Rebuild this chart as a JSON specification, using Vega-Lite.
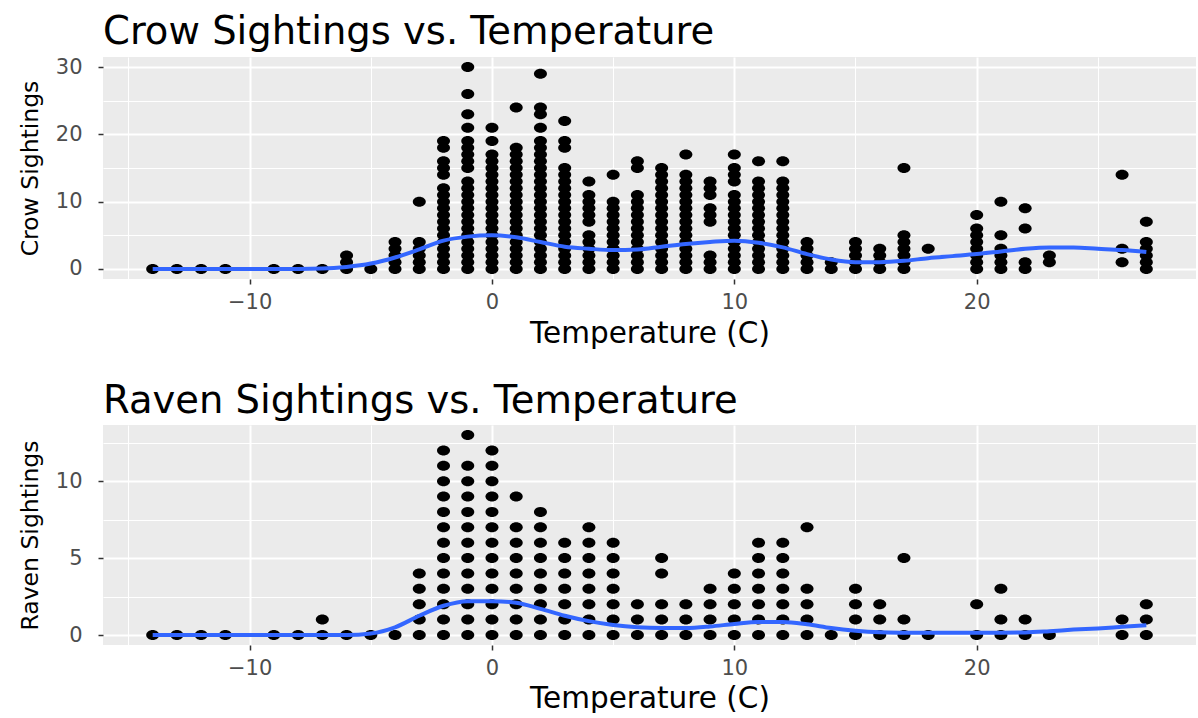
{
"$schema": "https://vega.github.io/schema/vega-lite/v6.json",
"background": "white",
"padding": {"left": 18, "top": 12, "right": 0, "bottom": 0},
"spacing": 33,
"config": {
  "font": "DejaVu Sans",
  "view": {"stroke": null, "fill": "#EBEBEB"},
  "title": {"anchor": "start", "frame": "group", "fontSize": 38.5, "fontWeight": "normal", "color": "#000000", "offset": 4, "font": "DejaVu Sans"}
},
"datasets": {
"crow": [
{"temp":-14,"sightings":0},{"temp":-13,"sightings":0},{"temp":-12,"sightings":0},{"temp":-11,"sightings":0},{"temp":-9,"sightings":0},{"temp":-8,"sightings":0},{"temp":-7,"sightings":0},
{"temp":-6,"sightings":0},{"temp":-6,"sightings":1},{"temp":-6,"sightings":2},
{"temp":-5,"sightings":0},
{"temp":-4,"sightings":0},{"temp":-4,"sightings":1},{"temp":-4,"sightings":2},{"temp":-4,"sightings":3},{"temp":-4,"sightings":4},
{"temp":-3,"sightings":0},{"temp":-3,"sightings":1},{"temp":-3,"sightings":2},{"temp":-3,"sightings":3},{"temp":-3,"sightings":4},{"temp":-3,"sightings":10},
{"temp":-2,"sightings":0},{"temp":-2,"sightings":1},{"temp":-2,"sightings":2},{"temp":-2,"sightings":3},{"temp":-2,"sightings":4},{"temp":-2,"sightings":5},{"temp":-2,"sightings":6},{"temp":-2,"sightings":7},{"temp":-2,"sightings":8},{"temp":-2,"sightings":9},{"temp":-2,"sightings":10},{"temp":-2,"sightings":11},{"temp":-2,"sightings":12},{"temp":-2,"sightings":14},{"temp":-2,"sightings":15},{"temp":-2,"sightings":16},{"temp":-2,"sightings":18},{"temp":-2,"sightings":19},
{"temp":-1,"sightings":0},{"temp":-1,"sightings":1},{"temp":-1,"sightings":2},{"temp":-1,"sightings":3},{"temp":-1,"sightings":4},{"temp":-1,"sightings":5},{"temp":-1,"sightings":6},{"temp":-1,"sightings":7},{"temp":-1,"sightings":8},{"temp":-1,"sightings":9},{"temp":-1,"sightings":10},{"temp":-1,"sightings":11},{"temp":-1,"sightings":12},{"temp":-1,"sightings":13},{"temp":-1,"sightings":15},{"temp":-1,"sightings":16},{"temp":-1,"sightings":17},{"temp":-1,"sightings":18},{"temp":-1,"sightings":19},{"temp":-1,"sightings":21},{"temp":-1,"sightings":23},{"temp":-1,"sightings":26},{"temp":-1,"sightings":30},
{"temp":0,"sightings":0},{"temp":0,"sightings":1},{"temp":0,"sightings":2},{"temp":0,"sightings":3},{"temp":0,"sightings":4},{"temp":0,"sightings":5},{"temp":0,"sightings":6},{"temp":0,"sightings":7},{"temp":0,"sightings":8},{"temp":0,"sightings":9},{"temp":0,"sightings":10},{"temp":0,"sightings":11},{"temp":0,"sightings":12},{"temp":0,"sightings":13},{"temp":0,"sightings":14},{"temp":0,"sightings":15},{"temp":0,"sightings":16},{"temp":0,"sightings":17},{"temp":0,"sightings":19},{"temp":0,"sightings":21},
{"temp":1,"sightings":0},{"temp":1,"sightings":1},{"temp":1,"sightings":2},{"temp":1,"sightings":3},{"temp":1,"sightings":4},{"temp":1,"sightings":5},{"temp":1,"sightings":6},{"temp":1,"sightings":7},{"temp":1,"sightings":8},{"temp":1,"sightings":9},{"temp":1,"sightings":10},{"temp":1,"sightings":11},{"temp":1,"sightings":12},{"temp":1,"sightings":13},{"temp":1,"sightings":14},{"temp":1,"sightings":15},{"temp":1,"sightings":16},{"temp":1,"sightings":17},{"temp":1,"sightings":18},{"temp":1,"sightings":24},
{"temp":2,"sightings":0},{"temp":2,"sightings":1},{"temp":2,"sightings":2},{"temp":2,"sightings":3},{"temp":2,"sightings":4},{"temp":2,"sightings":5},{"temp":2,"sightings":6},{"temp":2,"sightings":7},{"temp":2,"sightings":8},{"temp":2,"sightings":9},{"temp":2,"sightings":10},{"temp":2,"sightings":11},{"temp":2,"sightings":12},{"temp":2,"sightings":13},{"temp":2,"sightings":14},{"temp":2,"sightings":15},{"temp":2,"sightings":16},{"temp":2,"sightings":17},{"temp":2,"sightings":18},{"temp":2,"sightings":19},{"temp":2,"sightings":21},{"temp":2,"sightings":23},{"temp":2,"sightings":24},{"temp":2,"sightings":29},
{"temp":3,"sightings":0},{"temp":3,"sightings":1},{"temp":3,"sightings":2},{"temp":3,"sightings":3},{"temp":3,"sightings":4},{"temp":3,"sightings":5},{"temp":3,"sightings":6},{"temp":3,"sightings":7},{"temp":3,"sightings":8},{"temp":3,"sightings":9},{"temp":3,"sightings":10},{"temp":3,"sightings":11},{"temp":3,"sightings":12},{"temp":3,"sightings":13},{"temp":3,"sightings":14},{"temp":3,"sightings":15},{"temp":3,"sightings":18},{"temp":3,"sightings":19},{"temp":3,"sightings":22},
{"temp":4,"sightings":0},{"temp":4,"sightings":1},{"temp":4,"sightings":2},{"temp":4,"sightings":3},{"temp":4,"sightings":4},{"temp":4,"sightings":5},{"temp":4,"sightings":7},{"temp":4,"sightings":8},{"temp":4,"sightings":9},{"temp":4,"sightings":10},{"temp":4,"sightings":11},{"temp":4,"sightings":13},
{"temp":5,"sightings":0},{"temp":5,"sightings":1},{"temp":5,"sightings":2},{"temp":5,"sightings":3},{"temp":5,"sightings":4},{"temp":5,"sightings":5},{"temp":5,"sightings":6},{"temp":5,"sightings":7},{"temp":5,"sightings":8},{"temp":5,"sightings":9},{"temp":5,"sightings":10},{"temp":5,"sightings":14},
{"temp":6,"sightings":0},{"temp":6,"sightings":1},{"temp":6,"sightings":2},{"temp":6,"sightings":3},{"temp":6,"sightings":4},{"temp":6,"sightings":5},{"temp":6,"sightings":6},{"temp":6,"sightings":7},{"temp":6,"sightings":8},{"temp":6,"sightings":9},{"temp":6,"sightings":10},{"temp":6,"sightings":11},{"temp":6,"sightings":15},{"temp":6,"sightings":16},
{"temp":7,"sightings":0},{"temp":7,"sightings":1},{"temp":7,"sightings":2},{"temp":7,"sightings":3},{"temp":7,"sightings":4},{"temp":7,"sightings":5},{"temp":7,"sightings":6},{"temp":7,"sightings":7},{"temp":7,"sightings":8},{"temp":7,"sightings":9},{"temp":7,"sightings":10},{"temp":7,"sightings":11},{"temp":7,"sightings":12},{"temp":7,"sightings":13},{"temp":7,"sightings":14},{"temp":7,"sightings":15},
{"temp":8,"sightings":0},{"temp":8,"sightings":1},{"temp":8,"sightings":2},{"temp":8,"sightings":3},{"temp":8,"sightings":4},{"temp":8,"sightings":5},{"temp":8,"sightings":6},{"temp":8,"sightings":7},{"temp":8,"sightings":8},{"temp":8,"sightings":9},{"temp":8,"sightings":10},{"temp":8,"sightings":11},{"temp":8,"sightings":12},{"temp":8,"sightings":13},{"temp":8,"sightings":14},{"temp":8,"sightings":17},
{"temp":9,"sightings":0},{"temp":9,"sightings":1},{"temp":9,"sightings":2},{"temp":9,"sightings":7},{"temp":9,"sightings":8},{"temp":9,"sightings":9},{"temp":9,"sightings":11},{"temp":9,"sightings":12},{"temp":9,"sightings":13},
{"temp":10,"sightings":0},{"temp":10,"sightings":1},{"temp":10,"sightings":2},{"temp":10,"sightings":3},{"temp":10,"sightings":4},{"temp":10,"sightings":5},{"temp":10,"sightings":6},{"temp":10,"sightings":7},{"temp":10,"sightings":8},{"temp":10,"sightings":9},{"temp":10,"sightings":10},{"temp":10,"sightings":11},{"temp":10,"sightings":13},{"temp":10,"sightings":14},{"temp":10,"sightings":15},{"temp":10,"sightings":17},
{"temp":11,"sightings":0},{"temp":11,"sightings":1},{"temp":11,"sightings":2},{"temp":11,"sightings":3},{"temp":11,"sightings":4},{"temp":11,"sightings":5},{"temp":11,"sightings":6},{"temp":11,"sightings":7},{"temp":11,"sightings":8},{"temp":11,"sightings":9},{"temp":11,"sightings":10},{"temp":11,"sightings":11},{"temp":11,"sightings":12},{"temp":11,"sightings":13},{"temp":11,"sightings":16},
{"temp":12,"sightings":0},{"temp":12,"sightings":1},{"temp":12,"sightings":2},{"temp":12,"sightings":3},{"temp":12,"sightings":4},{"temp":12,"sightings":5},{"temp":12,"sightings":6},{"temp":12,"sightings":7},{"temp":12,"sightings":8},{"temp":12,"sightings":9},{"temp":12,"sightings":10},{"temp":12,"sightings":11},{"temp":12,"sightings":12},{"temp":12,"sightings":13},{"temp":12,"sightings":16},
{"temp":13,"sightings":0},{"temp":13,"sightings":1},{"temp":13,"sightings":2},{"temp":13,"sightings":3},{"temp":13,"sightings":4},
{"temp":14,"sightings":0},{"temp":14,"sightings":1},
{"temp":15,"sightings":0},{"temp":15,"sightings":1},{"temp":15,"sightings":2},{"temp":15,"sightings":3},{"temp":15,"sightings":4},
{"temp":16,"sightings":0},{"temp":16,"sightings":1},{"temp":16,"sightings":2},{"temp":16,"sightings":3},
{"temp":17,"sightings":0},{"temp":17,"sightings":1},{"temp":17,"sightings":2},{"temp":17,"sightings":3},{"temp":17,"sightings":4},{"temp":17,"sightings":5},{"temp":17,"sightings":15},
{"temp":18,"sightings":3},
{"temp":20,"sightings":0},{"temp":20,"sightings":1},{"temp":20,"sightings":2},{"temp":20,"sightings":3},{"temp":20,"sightings":4},{"temp":20,"sightings":5},{"temp":20,"sightings":6},{"temp":20,"sightings":8},
{"temp":21,"sightings":0},{"temp":21,"sightings":1},{"temp":21,"sightings":2},{"temp":21,"sightings":3},{"temp":21,"sightings":5},{"temp":21,"sightings":10},
{"temp":22,"sightings":0},{"temp":22,"sightings":1},{"temp":22,"sightings":6},{"temp":22,"sightings":9},
{"temp":23,"sightings":1},{"temp":23,"sightings":2},
{"temp":26,"sightings":1},{"temp":26,"sightings":3},{"temp":26,"sightings":14},
{"temp":27,"sightings":0},{"temp":27,"sightings":1},{"temp":27,"sightings":2},{"temp":27,"sightings":3},{"temp":27,"sightings":4},{"temp":27,"sightings":7}
],
"raven": [
{"temp":-14,"sightings":0},{"temp":-13,"sightings":0},{"temp":-12,"sightings":0},{"temp":-11,"sightings":0},{"temp":-9,"sightings":0},{"temp":-8,"sightings":0},
{"temp":-7,"sightings":0},{"temp":-7,"sightings":1},
{"temp":-6,"sightings":0},{"temp":-5,"sightings":0},{"temp":-4,"sightings":0},
{"temp":-3,"sightings":0},{"temp":-3,"sightings":1},{"temp":-3,"sightings":2},{"temp":-3,"sightings":3},{"temp":-3,"sightings":4},
{"temp":-2,"sightings":0},{"temp":-2,"sightings":1},{"temp":-2,"sightings":2},{"temp":-2,"sightings":3},{"temp":-2,"sightings":4},{"temp":-2,"sightings":5},{"temp":-2,"sightings":6},{"temp":-2,"sightings":7},{"temp":-2,"sightings":8},{"temp":-2,"sightings":9},{"temp":-2,"sightings":10},{"temp":-2,"sightings":11},{"temp":-2,"sightings":12},
{"temp":-1,"sightings":0},{"temp":-1,"sightings":1},{"temp":-1,"sightings":2},{"temp":-1,"sightings":3},{"temp":-1,"sightings":4},{"temp":-1,"sightings":5},{"temp":-1,"sightings":6},{"temp":-1,"sightings":7},{"temp":-1,"sightings":8},{"temp":-1,"sightings":9},{"temp":-1,"sightings":10},{"temp":-1,"sightings":11},{"temp":-1,"sightings":13},
{"temp":0,"sightings":0},{"temp":0,"sightings":1},{"temp":0,"sightings":2},{"temp":0,"sightings":3},{"temp":0,"sightings":4},{"temp":0,"sightings":5},{"temp":0,"sightings":6},{"temp":0,"sightings":7},{"temp":0,"sightings":8},{"temp":0,"sightings":9},{"temp":0,"sightings":10},{"temp":0,"sightings":11},{"temp":0,"sightings":12},
{"temp":1,"sightings":0},{"temp":1,"sightings":1},{"temp":1,"sightings":2},{"temp":1,"sightings":3},{"temp":1,"sightings":4},{"temp":1,"sightings":5},{"temp":1,"sightings":6},{"temp":1,"sightings":7},{"temp":1,"sightings":9},
{"temp":2,"sightings":0},{"temp":2,"sightings":1},{"temp":2,"sightings":2},{"temp":2,"sightings":3},{"temp":2,"sightings":4},{"temp":2,"sightings":5},{"temp":2,"sightings":6},{"temp":2,"sightings":7},{"temp":2,"sightings":8},
{"temp":3,"sightings":0},{"temp":3,"sightings":1},{"temp":3,"sightings":2},{"temp":3,"sightings":3},{"temp":3,"sightings":4},{"temp":3,"sightings":5},{"temp":3,"sightings":6},
{"temp":4,"sightings":0},{"temp":4,"sightings":1},{"temp":4,"sightings":2},{"temp":4,"sightings":3},{"temp":4,"sightings":4},{"temp":4,"sightings":5},{"temp":4,"sightings":6},{"temp":4,"sightings":7},
{"temp":5,"sightings":0},{"temp":5,"sightings":1},{"temp":5,"sightings":2},{"temp":5,"sightings":3},{"temp":5,"sightings":4},{"temp":5,"sightings":5},{"temp":5,"sightings":6},
{"temp":6,"sightings":0},{"temp":6,"sightings":1},{"temp":6,"sightings":2},
{"temp":7,"sightings":0},{"temp":7,"sightings":1},{"temp":7,"sightings":2},{"temp":7,"sightings":4},{"temp":7,"sightings":5},
{"temp":8,"sightings":0},{"temp":8,"sightings":1},{"temp":8,"sightings":2},
{"temp":9,"sightings":0},{"temp":9,"sightings":1},{"temp":9,"sightings":2},{"temp":9,"sightings":3},
{"temp":10,"sightings":0},{"temp":10,"sightings":1},{"temp":10,"sightings":2},{"temp":10,"sightings":3},{"temp":10,"sightings":4},
{"temp":11,"sightings":0},{"temp":11,"sightings":1},{"temp":11,"sightings":2},{"temp":11,"sightings":3},{"temp":11,"sightings":4},{"temp":11,"sightings":5},{"temp":11,"sightings":6},
{"temp":12,"sightings":0},{"temp":12,"sightings":1},{"temp":12,"sightings":2},{"temp":12,"sightings":3},{"temp":12,"sightings":4},{"temp":12,"sightings":5},{"temp":12,"sightings":6},
{"temp":13,"sightings":0},{"temp":13,"sightings":1},{"temp":13,"sightings":2},{"temp":13,"sightings":3},{"temp":13,"sightings":7},
{"temp":14,"sightings":0},
{"temp":15,"sightings":0},{"temp":15,"sightings":1},{"temp":15,"sightings":2},{"temp":15,"sightings":3},
{"temp":16,"sightings":0},{"temp":16,"sightings":1},{"temp":16,"sightings":2},
{"temp":17,"sightings":0},{"temp":17,"sightings":1},{"temp":17,"sightings":5},
{"temp":18,"sightings":0},
{"temp":20,"sightings":0},{"temp":20,"sightings":2},
{"temp":21,"sightings":0},{"temp":21,"sightings":1},{"temp":21,"sightings":3},
{"temp":22,"sightings":0},{"temp":22,"sightings":1},
{"temp":23,"sightings":0},
{"temp":26,"sightings":0},{"temp":26,"sightings":1},
{"temp":27,"sightings":0},{"temp":27,"sightings":1},{"temp":27,"sightings":2}
],
"crowFit": [
{"temp":-14,"fit":0},{"temp":-13,"fit":0},{"temp":-12,"fit":0},{"temp":-11,"fit":0},{"temp":-10,"fit":0},{"temp":-9,"fit":0},{"temp":-8,"fit":0},{"temp":-7,"fit":0.05},{"temp":-6,"fit":0.3},{"temp":-5,"fit":0.8},{"temp":-4,"fit":1.7},{"temp":-3,"fit":2.9},{"temp":-2,"fit":4.2},{"temp":-1,"fit":4.8},{"temp":0,"fit":5.0},{"temp":1,"fit":4.7},{"temp":2,"fit":4.0},{"temp":3,"fit":3.3},{"temp":4,"fit":3.0},{"temp":5,"fit":2.8},{"temp":6,"fit":2.9},{"temp":7,"fit":3.3},{"temp":8,"fit":3.7},{"temp":9,"fit":4.0},{"temp":10,"fit":4.2},{"temp":11,"fit":3.9},{"temp":12,"fit":3.2},{"temp":13,"fit":2.2},{"temp":14,"fit":1.4},{"temp":15,"fit":1.0},{"temp":16,"fit":1.0},{"temp":17,"fit":1.2},{"temp":18,"fit":1.6},{"temp":19,"fit":1.9},{"temp":20,"fit":2.2},{"temp":21,"fit":2.6},{"temp":22,"fit":3.0},{"temp":23,"fit":3.2},{"temp":24,"fit":3.2},{"temp":25,"fit":3.0},{"temp":26,"fit":2.8},{"temp":27,"fit":2.5}
],
"ravenFit": [
{"temp":-14,"fit":0},{"temp":-13,"fit":0},{"temp":-12,"fit":0},{"temp":-11,"fit":0},{"temp":-10,"fit":0},{"temp":-9,"fit":0},{"temp":-8,"fit":0},{"temp":-7,"fit":0},{"temp":-6,"fit":0},{"temp":-5,"fit":0.1},{"temp":-4,"fit":0.5},{"temp":-3,"fit":1.25},{"temp":-2,"fit":1.9},{"temp":-1,"fit":2.2},{"temp":0,"fit":2.2},{"temp":1,"fit":2.1},{"temp":2,"fit":1.7},{"temp":3,"fit":1.25},{"temp":4,"fit":0.9},{"temp":5,"fit":0.65},{"temp":6,"fit":0.5},{"temp":7,"fit":0.45},{"temp":8,"fit":0.45},{"temp":9,"fit":0.55},{"temp":10,"fit":0.72},{"temp":11,"fit":0.85},{"temp":12,"fit":0.85},{"temp":13,"fit":0.7},{"temp":14,"fit":0.45},{"temp":15,"fit":0.28},{"temp":16,"fit":0.18},{"temp":17,"fit":0.15},{"temp":18,"fit":0.14},{"temp":19,"fit":0.14},{"temp":20,"fit":0.15},{"temp":21,"fit":0.15},{"temp":22,"fit":0.17},{"temp":23,"fit":0.25},{"temp":24,"fit":0.35},{"temp":25,"fit":0.43},{"temp":26,"fit":0.53},{"temp":27,"fit":0.63}
]
},
"vconcat": [
{
  "width": 1093, "height": 222,
  "title": {"text": "Crow Sightings vs. Temperature"},
  "resolve": {"axis": {"x": "independent", "y": "independent"}},
  "layer": [
    {"data": {"name": "crow"},
     "mark": {"type": "point", "shape": "M-1,0A1,0.77,0,1,1,1,0A1,0.77,0,1,1,-1,0Z", "size": 169, "filled": true, "color": "#000000", "opacity": 1, "strokeWidth": 0},
     "encoding": {
       "x": {"field": "temp", "type": "quantitative", "scale": {"domain": [-16.05, 29.05], "nice": false, "zero": false},
             "axis": {"orient": "bottom", "values": [-15, -5, 5, 15, 25], "grid": true, "gridColor": "#FFFFFF", "gridWidth": 1, "labels": false, "ticks": false, "domain": false, "title": null}},
       "y": {"field": "sightings", "type": "quantitative", "scale": {"domain": [-1.5, 31.5], "nice": false, "zero": false},
             "axis": {"orient": "left", "values": [5, 15, 25], "grid": true, "gridColor": "#FFFFFF", "gridWidth": 1, "labels": false, "ticks": false, "domain": false, "title": null}}
     }},
    {"data": {"name": "crowFit"},
     "mark": {"type": "line", "color": "#3366FF", "strokeWidth": 4, "interpolate": "monotone"},
     "encoding": {
       "x": {"field": "temp", "type": "quantitative", "scale": {"domain": [-16.05, 29.05], "nice": false, "zero": false},
             "axis": {"orient": "bottom", "values": [-10, 0, 10, 20], "grid": true, "gridColor": "#FFFFFF", "gridWidth": 2, "domain": false, "ticks": true, "tickColor": "#333333", "tickSize": 5, "tickWidth": 1.5, "labelColor": "#4D4D4D", "labelFontSize": 21, "labelPadding": 7, "title": "Temperature (C)", "titleFontSize": 29.5, "titleFontWeight": "normal", "titleColor": "#000000", "titlePadding": 7}},
       "y": {"field": "fit", "type": "quantitative", "scale": {"domain": [-1.5, 31.5], "nice": false, "zero": false},
             "axis": {"orient": "left", "values": [0, 10, 20, 30], "grid": true, "gridColor": "#FFFFFF", "gridWidth": 2, "domain": false, "ticks": true, "tickColor": "#333333", "tickSize": 5, "tickWidth": 1.5, "labelColor": "#4D4D4D", "labelFontSize": 21, "labelPadding": 16, "title": "Crow Sightings", "titleFontSize": 23.5, "titleFontWeight": "normal", "titleColor": "#000000", "titlePadding": 13}}
     }}
  ]
},
{
  "width": 1093, "height": 220,
  "title": {"text": "Raven Sightings vs. Temperature"},
  "resolve": {"axis": {"x": "independent", "y": "independent"}},
  "layer": [
    {"data": {"name": "raven"},
     "mark": {"type": "point", "shape": "M-1,0A1,0.77,0,1,1,1,0A1,0.77,0,1,1,-1,0Z", "size": 169, "filled": true, "color": "#000000", "opacity": 1, "strokeWidth": 0},
     "encoding": {
       "x": {"field": "temp", "type": "quantitative", "scale": {"domain": [-16.05, 29.05], "nice": false, "zero": false},
             "axis": {"orient": "bottom", "values": [-15, -5, 5, 15, 25], "grid": true, "gridColor": "#FFFFFF", "gridWidth": 1, "labels": false, "ticks": false, "domain": false, "title": null}},
       "y": {"field": "sightings", "type": "quantitative", "scale": {"domain": [-0.65, 13.65], "nice": false, "zero": false},
             "axis": {"orient": "left", "values": [2.5, 7.5, 12.5], "grid": true, "gridColor": "#FFFFFF", "gridWidth": 1, "labels": false, "ticks": false, "domain": false, "title": null}}
     }},
    {"data": {"name": "ravenFit"},
     "mark": {"type": "line", "color": "#3366FF", "strokeWidth": 4, "interpolate": "monotone"},
     "encoding": {
       "x": {"field": "temp", "type": "quantitative", "scale": {"domain": [-16.05, 29.05], "nice": false, "zero": false},
             "axis": {"orient": "bottom", "values": [-10, 0, 10, 20], "grid": true, "gridColor": "#FFFFFF", "gridWidth": 2, "domain": false, "ticks": true, "tickColor": "#333333", "tickSize": 5, "tickWidth": 1.5, "labelColor": "#4D4D4D", "labelFontSize": 21, "labelPadding": 7, "title": "Temperature (C)", "titleFontSize": 29.5, "titleFontWeight": "normal", "titleColor": "#000000", "titlePadding": 6}},
       "y": {"field": "fit", "type": "quantitative", "scale": {"domain": [-0.65, 13.65], "nice": false, "zero": false},
             "axis": {"orient": "left", "values": [0, 5, 10], "grid": true, "gridColor": "#FFFFFF", "gridWidth": 2, "domain": false, "ticks": true, "tickColor": "#333333", "tickSize": 5, "tickWidth": 1.5, "labelColor": "#4D4D4D", "labelFontSize": 21, "labelPadding": 16, "title": "Raven Sightings", "titleFontSize": 23.5, "titleFontWeight": "normal", "titleColor": "#000000", "titlePadding": 13}}
     }}
  ]
}
]
}
